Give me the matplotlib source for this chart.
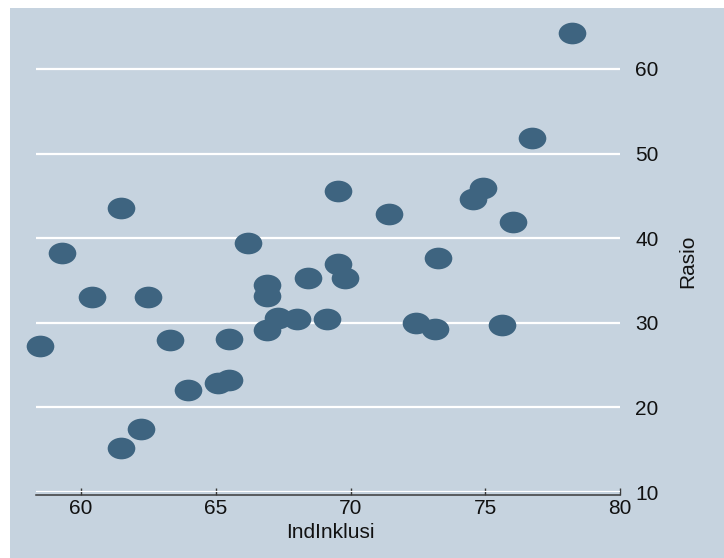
import matplotlib
matplotlib.use("Agg")
import matplotlib.pyplot as plt
from matplotlib.path import Path
from matplotlib.patches import Rectangle
import numpy as np

ind_inklusi = [58.48, 59.29, 60.41, 61.49, 61.49, 62.23, 62.49, 63.31, 63.98, 65.08,
               65.50, 65.50, 66.21, 66.91, 66.91, 66.91, 67.32, 68.03, 68.44, 69.11,
               69.52, 69.52, 69.81, 71.41, 72.42, 73.12, 73.23, 74.54, 74.91, 75.62,
               76.02, 76.73, 78.22]
rasio = [27.2, 38.2, 33.0, 43.6, 15.2, 17.5, 33.0, 28.0, 22.0, 22.9,
         23.2, 28.1, 39.4, 34.5, 33.2, 29.2, 30.6, 30.4, 35.3, 30.4,
         45.6, 36.9, 35.3, 42.9, 30.0, 29.3, 37.6, 44.6, 45.9, 29.7,
         41.9, 51.8, 64.3]

x_ticks = [60, 65, 70, 75, 80]
y_ticks = [10, 20, 30, 40, 50, 60]
x_label = "IndInklusi"
y_label = "Rasio"

BG = "#C6D3DF"
MK = "#3E6480"
W, H = 724, 558

plt.rcParams['font.family'] = ['Liberation Sans', 'DejaVu Sans']
fig = plt.figure(figsize=(W / 100, H / 100), dpi=100)
fig.patch.set_facecolor("white")
fig.patches.append(Rectangle((10 / W, 0), (W - 10) / W, (H - 8) / H,
                             transform=fig.transFigure, facecolor=BG,
                             edgecolor="none", zorder=-10))

ax = fig.add_axes([36 / W, 1 - 492 / H, 584 / W, (492 - 18.2) / H])
ax.set_facecolor(BG)
ax.set_xlim(58.33, 80)
ax.set_ylim(10, 66)

circ = Path.unit_circle()
ell = Path(circ.vertices * np.array([1.275, 1.0]), circ.codes)
ax.scatter(ind_inklusi, rasio, marker=ell, s=19.9 ** 2, color=MK,
           linewidths=0, zorder=3, clip_on=False)

for sp in ["top", "left", "right"]:
    ax.spines[sp].set_visible(False)
ax.spines["bottom"].set_color("#3A3A3A")
ax.spines["bottom"].set_linewidth(1.1)
ax.spines["bottom"].set_position(("outward", 1.8))

ax.set_xticks(x_ticks)
ax.set_yticks(y_ticks)
ax.yaxis.tick_right()
ax.tick_params(axis="x", direction="in", length=5, width=1.0, color="#3A3A3A",
               labelsize=15, pad=3.5, labelcolor="#111111")
ax.tick_params(axis="y", length=0, labelsize=15, pad=11, labelcolor="#111111")
ax.grid(axis="y", color="white", linewidth=1.6, zorder=1)
ax.set_axisbelow(True)

fig.text(330.5 / W, 1 - 538 / H, x_label, ha="center", va="baseline",
         fontsize=15, color="#111111")
fig.text(688 / W, 1 - 261 / H, y_label, ha="center", va="center",
         rotation=90, fontsize=15, color="#111111")

fig.savefig("out.png", dpi=100, facecolor="white")
